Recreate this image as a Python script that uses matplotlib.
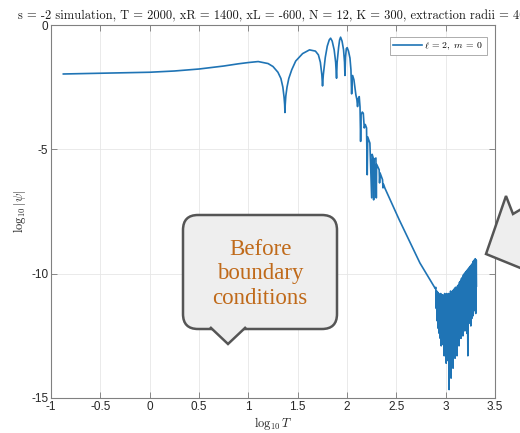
import matplotlib
matplotlib.use("Agg")
import matplotlib.pyplot as plt
from matplotlib.patches import FancyBboxPatch, Polygon
from matplotlib.transforms import Affine2D

# log10 T / log10 |psi|
log_t = [-0.875, -0.5, 0.0, 0.25, 0.5, 0.75, 0.9, 1.0, 1.1, 1.2, 1.25,
         1.30, 1.33, 1.35, 1.362, 1.368, 1.371, 1.374, 1.38, 1.392, 1.41, 1.44,
         1.48, 1.55, 1.62, 1.68, 1.71, 1.73, 1.745, 1.752, 1.76, 1.78, 1.80,
         1.82, 1.834, 1.85, 1.87, 1.885, 1.894, 1.90, 1.915, 1.925, 1.935,
         1.95, 1.965, 1.975, 1.979, 1.985, 1.993, 2.002, 2.015, 2.03, 2.04,
         2.047, 2.052, 2.057, 2.07, 2.09, 2.10, 2.107, 2.115, 2.124, 2.132,
         2.138, 2.143, 2.155, 2.165, 2.175, 2.185, 2.198, 2.205, 2.21, 2.232,
         2.25, 2.255, 2.266, 2.27, 2.275, 2.293, 2.297, 2.30, 2.326, 2.33,
         2.335, 2.36, 2.365, 2.37, 2.384, 2.529, 2.739, 2.895,
         2.900, 2.905, 2.910, 2.915, 2.920, 2.925, 2.930, 2.935, 2.940, 2.945,
         2.950, 2.955, 2.960, 2.965, 2.970, 2.975, 2.980, 2.985, 2.990, 2.995,
         3.000, 3.005, 3.010, 3.015, 3.020, 3.025, 3.030, 3.035, 3.040, 3.045,
         3.050, 3.055, 3.060, 3.065, 3.070, 3.075, 3.080, 3.085, 3.090, 3.095,
         3.100, 3.105, 3.110, 3.115, 3.120, 3.125, 3.130, 3.135, 3.140, 3.145,
         3.150, 3.155, 3.160, 3.165, 3.170, 3.175, 3.180, 3.185, 3.190, 3.195,
         3.200, 3.205, 3.210, 3.215, 3.220, 3.225, 3.230, 3.235, 3.240, 3.245,
         3.250, 3.255, 3.260, 3.265, 3.270, 3.275, 3.280, 3.285, 3.290, 3.295,
         3.300, 3.305, 3.310, 3.312]
log_psi = [-1.97, -1.94, -1.90, -1.85, -1.77, -1.65, -1.56, -1.51, -1.47, -1.55, -1.67,
           -1.9, -2.15, -2.5, -2.9, -3.2, -3.52, -3.2, -2.85, -2.5, -2.15, -1.8,
           -1.45, -1.15, -1.0, -1.05, -1.2, -1.5, -2.0, -2.45, -2.0, -1.3, -0.85,
           -0.6, -0.53, -0.65, -1.0, -1.5, -2.14, -1.5, -0.9, -0.6, -0.49,
           -0.65, -1.0, -1.5, -2.03, -1.3, -0.95, -0.91, -1.05, -1.33, -1.8,
           -2.77, -2.2, -2.03, -2.2, -2.81, -3.0, -3.28, -2.95, -2.88, -3.3,
           -4.68, -3.6, -3.5, -3.55, -4.14, -4.0, -4.14, -6.02, -4.5, -4.75,
           -6.95, -5.2, -5.35, -7.03, -5.4, -5.35, -6.95, -5.6, -5.82, -6.35,
           -5.95, -6.22, -6.55, -6.4, -6.56, -7.83, -9.57, -10.6,
           -10.55, -11.4, -10.7, -11.9, -10.75, -12.2, -10.8, -12.4, -10.85, -12.6,
           -10.8, -12.9, -10.9, -12.5, -10.85, -12.85, -10.9, -13.3, -10.8, -12.7,
           -10.9, -13.6, -10.8, -12.9, -10.85, -13.5, -10.8, -14.66, -10.85, -13.0,
           -10.7, -14.2, -10.8, -12.8, -10.7, -13.8, -10.65, -12.6, -10.6, -13.4,
           -10.55, -12.7, -10.6, -13.3, -10.5, -12.4, -10.45, -12.9, -10.35, -12.3,
           -10.3, -12.6, -10.2, -12.2, -10.15, -12.5, -10.05, -12.1, -10.0, -12.3,
           -9.95, -12.0, -9.9, -12.4, -9.85, -13.3, -9.8, -12.0, -9.75, -11.9,
           -9.7, -12.1, -9.65, -11.8, -9.6, -11.7, -9.5, -11.5, -9.45, -11.2,
           -9.4, -11.6, -9.45, -10.5]

x_ticks = [-1, -0.5, 0, 0.5, 1, 1.5, 2, 2.5, 3, 3.5]
x_labels = ["-1", "-0.5", "0", "0.5", "1", "1.5", "2", "2.5", "3", "3.5"]
y_ticks = [-15, -10, -5, 0]
y_labels = ["-15", "-10", "-5", "0"]

title = ("s = -2 simulation, T = 2000, xR = 1400, xL = -600, N = 12, "
         "K = 300, extraction radii = 400")
note = "Before\nboundary\nconditions"

plt.rcParams['mathtext.fontset'] = 'cm'
W, H = 520, 433
fig = plt.figure(figsize=(5.2, 4.33), dpi=100)
ax = fig.add_axes([51 / W, 1 - 398 / H, 444 / W, 373 / H])

ax.plot(log_t, log_psi, color='#1f74b5', lw=1.2,
        label=r'$\ell\,=\,2,\ m\,=\,0$')
ax.set_xlim(-1, 3.5)
ax.set_ylim(-15, 0)
ax.set_xticks(x_ticks)
ax.set_xticklabels(x_labels)
ax.set_yticks(y_ticks)
ax.set_yticklabels(y_labels)
ax.grid(True, color='#e6e6e6', lw=0.6)
ax.set_axisbelow(True)
ax.tick_params(direction='in', top=True, right=True, length=4, width=0.6,
               color='#777777', labelcolor='#262626', labelsize=8.5, pad=2)
for lab in ax.get_xticklabels() + ax.get_yticklabels():
    lab.set_family('Liberation Sans')
for s in ax.spines.values():
    s.set_color('#808080')
    s.set_linewidth(0.8)

leg = ax.legend(loc='upper right', fontsize=7, handlelength=3.0,
                borderpad=0.35, handletextpad=0.2, fancybox=False,
                framealpha=1, edgecolor='#a0a0a0',
                bbox_to_anchor=(0.992, 0.982))
leg.get_frame().set_linewidth(0.6)

fig.text(18 / W, 1 - 19 / H, title, fontname='cmr10', fontsize=9.0,
         ha='left', va='baseline', color='#1a1a1a')
fig.text(273 / W, 1 - 424 / H, r'$\log_{10}T$', fontsize=9, ha='center',
         va='center', color='#262626')
fig.text(20 / W, 1 - 211 / H, r'$\log_{10}|\psi|$', fontsize=9, ha='center',
         va='center', rotation=90, color='#262626')

# pixel coords with the origin at top-left
px = Affine2D().scale(1, -1).translate(0, H)

box = FancyBboxPatch((183, 215), 154, 114,
                     boxstyle="round,pad=0,rounding_size=15",
                     transform=px, facecolor='#eeeeee', edgecolor='#555555',
                     lw=1.8, zorder=5)
fig.add_artist(box)
tip = Polygon([(210, 327), (228, 344), (246, 327)], closed=False,
              transform=px, facecolor='#eeeeee', edgecolor='#555555',
              lw=1.8, zorder=6)
fig.add_artist(tip)
fig.text(260 / W, 1 - 274 / H, note, family='Liberation Serif', fontsize=16.5,
         color='#c06a1a', ha='center', va='center', linespacing=1.2, zorder=7)

other = Polygon([(545, 195), (513, 214), (506, 196), (486, 254), (545, 278)],
                closed=False, transform=px, facecolor='#eeeeee',
                edgecolor='#555555', lw=1.8, zorder=5)
fig.add_artist(other)

fig.savefig('out.png', dpi=100)
